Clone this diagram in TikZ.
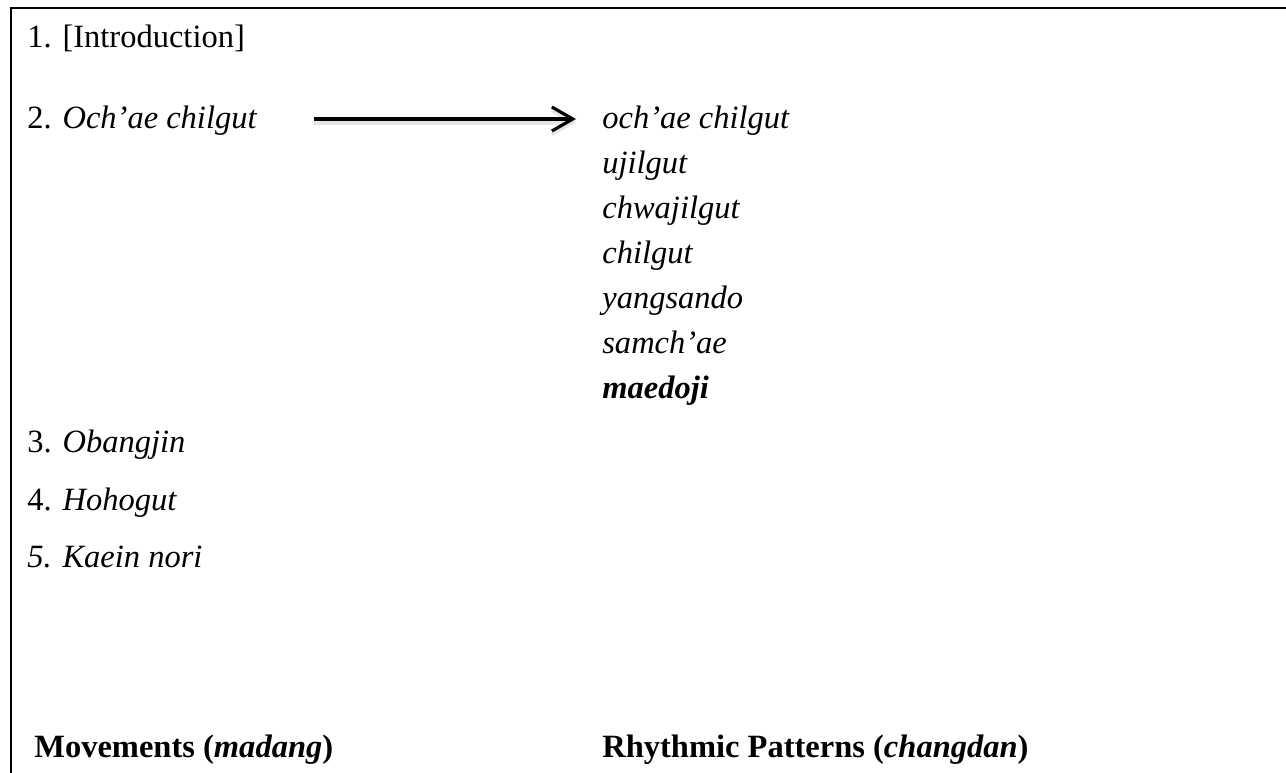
\documentclass[tikz,border=0pt]{standalone}
\usepackage{fontspec}
\setmainfont{Liberation Serif}
\usetikzlibrary{positioning,arrows.meta,calc}

\begin{document}
\begin{tikzpicture}[x=0.02cm,y=-0.02cm,
    item/.style={anchor=base west,inner sep=0pt,font=\fontsize{18.5}{22}\selectfont},
    head/.style={item,font=\fontsize{18.5}{22}\selectfont\bfseries},
    arr/.style={line width=1.8pt,-{Straight Barb[length=0.42cm,width=0.48cm,line width=1.8pt]},
        preaction={draw=black!10,line width=3.4pt,transform canvas={yshift=-2pt}}}]
    \useasboundingbox (0,0) rectangle (1286,773);

    % frame (top and left edge only)
    \draw[line width=1.3pt] (11,773) -- (11,8) -- (1286,8);

    % Movements
    \node[item] (m1) at (27,48) {1. [Introduction]};
    \node[item] (m2) at (27,129) {2. \textit{Och’ae chilgut}};
    \node[item] (m3) at (27,453) {3. \textit{Obangjin}};
    \node[item] (m4) at (27,511) {4. \textit{Hohogut}};
    \node[item] (m5) at (27,568) {\textit{5. Kaein nori}};

    % Rhythmic patterns of movement 2
    \node[item] (r1) at (602,129) {\textit{och’ae chilgut}};
    \node[item] (r2) at (602,174) {\textit{ujilgut}};
    \node[item] (r3) at (602,219) {\textit{chwajilgut}};
    \node[item] (r4) at (602,264) {\textit{chilgut}};
    \node[item] (r5) at (602,309) {\textit{yangsando}};
    \node[item] (r6) at (602,354) {\textit{samch’ae}};
    \node[item] (r7) at (602,399) {\textbf{\textit{maedoji}}};

    % arrow
    \coordinate (arrowstart) at (314,119);
    \draw[arr,shorten >=0.52cm] (arrowstart) -- (arrowstart -| r1.west);

    % column headings
    \node[head] (hmov) at (34,758) {Movements (\textit{madang})};
    \node[head] (hrhy) at (602,758) {Rhythmic Patterns (\textit{changdan})};
\end{tikzpicture}
\end{document}
